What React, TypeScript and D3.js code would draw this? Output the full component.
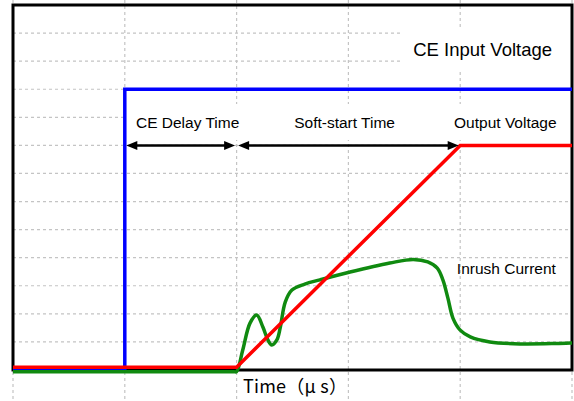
import React from 'react';
import * as d3 from 'd3';

// time axis: 0..10 (5 grid divisions), level axis: 0..13 (13 grid divisions)
const X_TICKS = [0, 2, 4, 6, 8, 10];
const Y_TICKS = [1, 2, 3, 4, 5, 6, 7, 8, 9, 10, 11, 12];

const ceInput: [number, number][] = [
  [0, 0], [2, 0], [2, 10], [10, 10],
];

const outputVoltage: [number, number][] = [
  [0, 0.1], [4, 0.1], [8, 8], [10, 8],
];

const inrushCurrent: [number, number][] = [
  [0, -0.06], [3.95, -0.06], [4.0, -0.06], [4.11, 0.71], [4.24, 1.67], [4.36, 1.96],
  [4.47, 1.53], [4.56, 1.07], [4.63, 0.89], [4.72, 1.07], [4.78, 1.5], [4.87, 2.42],
  [4.99, 2.85], [5.22, 3.06], [5.49, 3.21], [6.03, 3.49], [6.74, 3.81], [7.16, 3.94],
  [7.42, 3.85], [7.59, 3.63], [7.69, 3.21], [7.78, 2.56], [7.87, 1.85], [8.0, 1.42],
  [8.18, 1.18], [8.53, 1.0], [9.07, 0.93], [10, 0.96],
];

const spans = [
  { from: 2, to: 4 },
  { from: 4, to: 8 },
];

const labels = [
  { text: 'CE Input Voltage', t: 7.16, v: 11.18, size: 18.5 },
  { text: 'CE Delay Time', t: 2.2, v: 8.62, size: 15.5 },
  { text: 'Soft-start Time', t: 5.03, v: 8.62, size: 15.5 },
  { text: 'Output Voltage', t: 7.89, v: 8.62, size: 15.5 },
  { text: 'Inrush Current', t: 7.94, v: 3.42, size: 15.5 },
];

const W = 574;
const H = 401;

const App: React.FC = () => {
  const x = d3.scaleLinear().domain([0, 10]).range([13, 572]);
  const y = d3.scaleLinear().domain([0, 13]).range([370, 5]);

  const step = d3.line<[number, number]>().x(d => x(d[0])).y(d => y(d[1]));
  const smooth = d3.line<[number, number]>()
    .x(d => x(d[0]))
    .y(d => y(d[1]))
    .curve(d3.curveCatmullRom);

  const ay = y(8);
  const head = (tipX: number, dir: number) =>
    `M${tipX},${ay} L${tipX + dir * 11},${ay - 4.5} L${tipX + dir * 11},${ay + 4.5} Z`;

  return (
    <div style={{ position: 'fixed', left: 0, top: 0 }}>
      <svg width={W} height={H} style={{ display: 'block', fontFamily: '"Liberation Sans", Arial, sans-serif' }}>
        <rect x={0} y={0} width={W} height={H} fill="#fff" />

        {/* grid */}
        <g stroke="#c4c4c4" strokeWidth={1.2} strokeDasharray="3,3">
          {X_TICKS.map(t => (
            <line key={'vx' + t} x1={x(t)} x2={x(t)} y1={0} y2={H} />
          ))}
          {Y_TICKS.map(v => (
            <line key={'hy' + v} x1={x(0)} x2={x(10)} y1={y(v)} y2={y(v)} />
          ))}
        </g>

        {/* label backgrounds */}
        <rect x={403} y={29} width={169} height={40} fill="#fff" />
        <rect x={x(2) + 1} y={104} width={x(10) - x(2) - 2} height={36} fill="#fff" />

        {/* frame */}
        <rect x={x(0)} y={y(13)} width={x(10) - x(0)} height={y(0) - y(13)} fill="none" stroke="#000" strokeWidth={3} />

        {/* traces */}
        <path d={step(ceInput)!} fill="none" stroke="#0000ff" strokeWidth={3.5} />
        <path d={smooth(inrushCurrent)!} fill="none" stroke="#108a10" strokeWidth={3.5} strokeLinejoin="round" />
        <path d={step(outputVoltage)!} fill="none" stroke="#ff0000" strokeWidth={3.5} />

        {/* time spans */}
        {spans.map((s, i) => {
          const x0 = x(s.from) + 1.5;
          const x1 = x(s.to) - 1.5;
          return (
            <g key={i}>
              <line x1={x0 + 6} x2={x1 - 6} y1={ay} y2={ay} stroke="#000" strokeWidth={2.5} />
              <path d={head(x0, 1)} fill="#000" />
              <path d={head(x1, -1)} fill="#000" />
            </g>
          );
        })}

        {labels.map(l => (
          <text key={l.text} x={x(l.t)} y={y(l.v)} fontSize={l.size} fill="#000">
            {l.text}
          </text>
        ))}

        <text x={243} y={393} fontSize={18} fill="#000" textLength={104} lengthAdjust="spacing"
          style={{ fontFamily: '"Noto Sans CJK JP", sans-serif' }}>
          Time（μ s）
        </text>
      </svg>
    </div>
  );
};

export default App;
